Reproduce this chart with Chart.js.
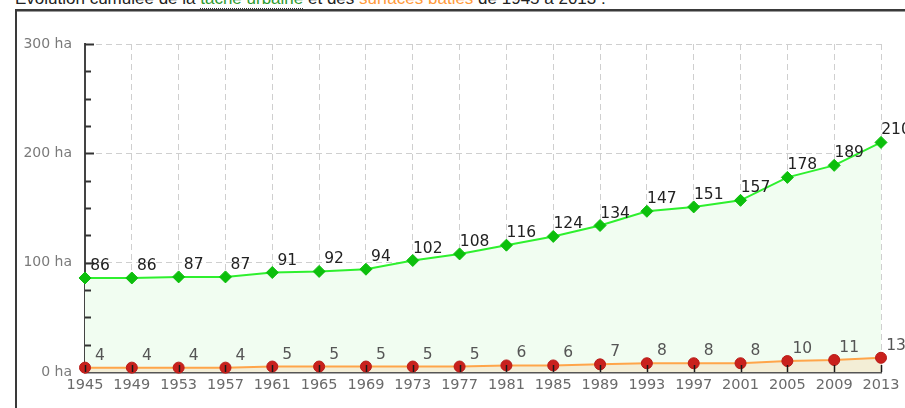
<!DOCTYPE html>
<html>
<head>
<meta charset="utf-8">
<script src="https://cdn.jsdelivr.net/npm/chart.js@4/dist/chart.umd.min.js"></script>
<style>
  html, body { margin: 0; padding: 0; background: #fff; overflow: hidden; }
  body { width: 905px; height: 408px; position: relative; }
  #intro {
    position: absolute; left: 15px; top: -11px; white-space: nowrap;
    font: 17px "Liberation Sans", Arial, sans-serif; line-height: 20px; color: #222;
  }
  #intro .urb { color: #2e9a2e; border-bottom: 1px dotted #333; }
  #intro .bati { color: #ff9a3a; }
  #frame {
    position: absolute; left: 15px; top: 9px; width: 960px; height: 480px;
    border-left: 2px solid #3a3a3a; border-top: 2px solid #3a3a3a;
    box-shadow: inset 0 1px 0 #9a9a9a;
  }
  #wrap { position: absolute; left: 0; top: 0; width: 905px; height: 408px; }
</style>
</head>
<body>
<div id="intro">Evolution cumulée de la <span class="urb">tache urbaine</span> et des <span class="bati">surfaces bâties</span> de 1945 à 2013 :</div>
<div id="frame"></div>
<div id="wrap"><canvas id="c" width="905" height="408"></canvas></div>
<script>
// Years of the survey (x axis)
const years = ['1945','1949','1953','1957','1961','1965','1969','1973','1977','1981','1985','1989','1993','1997','2001','2005','2009','2013'];
// Cumulated urban footprint, in hectares
const tacheUrbaine = [86, 86, 87, 87, 91, 92, 94, 102, 108, 116, 124, 134, 147, 151, 157, 178, 189, 210];
// Cumulated built surfaces, in hectares
const surfacesBaties = [4, 4, 4, 4, 5, 5, 5, 5, 5, 6, 6, 7, 8, 8, 8, 10, 11, 13];
// Y axis ticks
const yMax = 300;
const yStep = 100;
const yMinorStep = 25;

// Value labels written above-right of each point
const valueLabels = {
  id: 'valueLabels',
  afterDatasetsDraw(chart) {
    const ctx = chart.ctx;
    ctx.save();
    ctx.font = '15.5px "DejaVu Sans", sans-serif';
    ctx.textAlign = 'center';
    ctx.textBaseline = 'middle';
    chart.data.datasets.forEach((ds, di) => {
      const meta = chart.getDatasetMeta(di);
      ctx.fillStyle = ds.labelColor;
      meta.data.forEach((pt, i) => {
        ctx.fillText(String(ds.data[i]), pt.x + 15, pt.y - 12);
      });
    });
    ctx.restore();
  }
};

// Small tick marks drawn inside the plot along both axes
const innerTicks = {
  id: 'innerTicks',
  afterDatasetsDraw(chart) {
    const { ctx, chartArea } = chart;
    const y = chart.scales.y, x = chart.scales.x;
    ctx.save();
    ctx.strokeStyle = '#333';
    ctx.lineWidth = 2;
    for (let v = yMinorStep; v <= yMax; v += yMinorStep) {
      const py = Math.round(y.getPixelForValue(v)) + 0.5;
      const len = v % yStep === 0 ? 9 : 6;
      ctx.beginPath();
      ctx.moveTo(chartArea.left, py);
      ctx.lineTo(chartArea.left + len, py);
      ctx.stroke();
    }
    ctx.strokeStyle = '#1a1a1a';
    ctx.lineWidth = 1.5;
    years.forEach((_, i) => {
      const px = Math.round(x.getPixelForTick(i)) + 0.5;
      ctx.beginPath();
      ctx.moveTo(px, chartArea.bottom);
      ctx.lineTo(px, chartArea.bottom - 7);
      ctx.stroke();
    });
    ctx.restore();
  }
};

new Chart(document.getElementById('c'), {
  type: 'line',
  data: {
    labels: years,
    datasets: [
      {
        label: 'surfaces bâties',
        data: surfacesBaties,
        borderColor: '#ffa54a',
        borderWidth: 2,
        backgroundColor: '#f3eed6',
        fill: 'origin',
        pointStyle: 'circle',
        pointRadius: 5.5,
        pointBackgroundColor: '#c9211d',
        pointBorderColor: '#b81a17',
        pointBorderWidth: 1,
        labelColor: '#555',
        tension: 0,
        clip: false
      },
      {
        label: 'tache urbaine',
        data: tacheUrbaine,
        borderColor: '#2ef02e',
        borderWidth: 2,
        backgroundColor: '#f1fdf1',
        fill: 'origin',
        pointStyle: 'rectRot',
        pointRadius: 6,
        pointBackgroundColor: '#0cbf0c',
        pointBorderColor: '#0cbf0c',
        pointBorderWidth: 1,
        labelColor: '#222',
        tension: 0,
        clip: false
      }
    ]
  },
  options: {
    responsive: false,
    animation: false,
    events: [],
    layout: { padding: { top: 44, right: 24, left: 0, bottom: 0 } },
    plugins: { legend: { display: false }, tooltip: { enabled: false } },
    scales: {
      x: {
        type: 'category',
        offset: false,
        afterFit(scale) { scale.height = 36; },
        grid: { color: '#cfcfcf', lineWidth: 1, drawTicks: false },
        border: { color: '#555', width: 2.5, dash: [6, 4] },
        ticks: {
          color: '#6a6a6a',
          padding: 5,
          autoSkip: false,
          maxRotation: 0,
          font: { family: '"DejaVu Sans", sans-serif', size: 14.5 }
        }
      },
      y: {
        min: 0,
        max: yMax,
        afterFit(scale) { scale.width = 85; },
        grid: { color: '#cfcfcf', lineWidth: 1, drawTicks: false },
        border: { color: '#444', width: 2, dash: [6, 4] },
        ticks: {
          stepSize: yStep,
          color: '#7a7a7a',
          padding: 13,
          font: { family: '"DejaVu Sans", sans-serif', size: 14 },
          callback: (v) => v + ' ha'
        }
      }
    }
  },
  plugins: [innerTicks, valueLabels]
});
</script>
</body>
</html>
